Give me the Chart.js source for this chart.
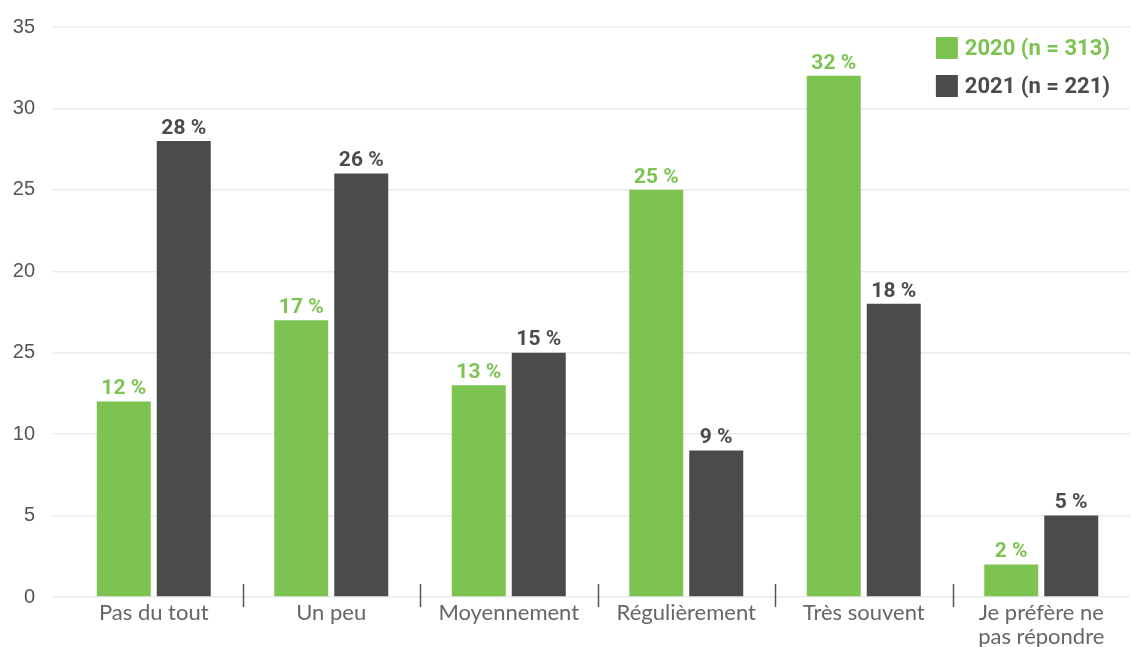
<!DOCTYPE html>
<html>
<head>
<meta charset="utf-8">
<script src="https://cdn.jsdelivr.net/npm/chart.js@4/dist/chart.umd.min.js"></script>
<style>
html,body{margin:0;padding:0;background:#fff;}
#wrap{width:1131px;height:647px;position:relative;}
</style>
</head>
<body>
<div id="wrap"><canvas id="c" width="1131" height="647"></canvas></div>
<script>
const categories = ['Pas du tout', 'Un peu', 'Moyennement', 'Régulièrement', 'Très souvent', ['Je préfère ne', 'pas répondre']];
const values2020 = [12, 17, 13, 25, 32, 2];
const values2021 = [28, 26, 15, 9, 18, 5];
const seriesLabels = ['2020 (n = 313)', '2021 (n = 221)'];
const yTickValues = [0, 5, 10, 15, 20, 25, 30, 35];
const yTickLabels = ['0', '5', '10', '25', '20', '25', '30', '35'];

const GREEN = '#7dc352';
const DARK = '#4a4b4d';

const separators = {
  id: 'separators',
  afterDraw(chart) {
    const x = chart.scales.x, ctx = chart.ctx, b = chart.chartArea.bottom;
    ctx.save();
    ctx.strokeStyle = '#555';
    ctx.lineWidth = 1.5;
    for (let i = 1; i < categories.length; i++) {
      const px = Math.round((x.getPixelForValue(i - 1) + x.getPixelForValue(i)) / 2) + 0.5;
      ctx.beginPath();
      ctx.moveTo(px, b - 13);
      ctx.lineTo(px, b + 10);
      ctx.stroke();
    }
    ctx.restore();
  }
};

const valueLabels = {
  id: 'valueLabels',
  afterDatasetsDraw(chart) {
    const ctx = chart.ctx;
    ctx.save();
    ctx.font = 'bold 21px Roboto, "Liberation Sans", sans-serif';
    ctx.textAlign = 'center';
    ctx.textBaseline = 'bottom';
    chart.data.datasets.forEach((ds, di) => {
      const meta = chart.getDatasetMeta(di);
      ctx.fillStyle = ds.backgroundColor;
      meta.data.forEach((el, i) => {
        ctx.fillText(ds.data[i] + ' %', el.x, el.y - 2);
      });
    });
    ctx.restore();
  }
};

const cornerLegend = {
  id: 'cornerLegend',
  afterDraw(chart) {
    const ctx = chart.ctx, area = chart.chartArea;
    ctx.save();
    ctx.font = 'bold 22px Roboto, "Liberation Sans", sans-serif';
    ctx.textBaseline = 'middle';
    ctx.textAlign = 'left';
    const ds = chart.data.datasets;
    let maxW = 0;
    ds.forEach(d => { maxW = Math.max(maxW, ctx.measureText(d.label).width); });
    const textX = area.right - 20 - maxW;
    const boxX = textX - 29;
    ds.forEach((d, i) => {
      const cy = area.top + 21 + i * 38;
      ctx.fillStyle = d.backgroundColor;
      ctx.fillRect(boxX, cy - 11, 22, 22);
      ctx.fillText(d.label, textX, cy + 1);
    });
    ctx.restore();
  }
};

new Chart(document.getElementById('c'), {
  type: 'bar',
  data: {
    labels: categories,
    datasets: [
      { label: seriesLabels[0], data: values2020, backgroundColor: GREEN, categoryPercentage: 0.676, barPercentage: 0.9 },
      { label: seriesLabels[1], data: values2021, backgroundColor: DARK, categoryPercentage: 0.676, barPercentage: 0.9 }
    ]
  },
  options: {
    responsive: false,
    animation: false,
    layout: { padding: { top: 27, right: 1, left: 0, bottom: 0 } },
    plugins: { legend: { display: false }, tooltip: { enabled: false } },
    scales: {
      x: {
        afterFit(s) { s.height = 50; },
        grid: { display: false, drawTicks: false },
        border: { display: false },
        ticks: { color: '#666', font: { family: 'Lato, sans-serif', size: 22, lineHeight: 1.1 }, padding: 4, maxRotation: 0, autoSkip: false }
      },
      y: {
        min: 0, max: 35,
        afterFit(s) { s.width = 65; s.paddingTop = 0; s.paddingBottom = 0; },
        afterBuildTicks(s) { s.ticks = yTickValues.map(v => ({ value: v })); },
        grid: { color: '#ebebeb', lineWidth: 1.5, tickLength: 12, tickColor: '#ebebeb' },
        border: { display: false },
        ticks: {
          color: '#555', padding: 18,
          font: { family: '"Liberation Sans", sans-serif', size: 20 },
          callback(v) { const i = yTickValues.indexOf(v); return i >= 0 ? yTickLabels[i] : ''; }
        }
      }
    }
  },
  plugins: [separators, valueLabels, cornerLegend]
});
</script>
</body>
</html>
